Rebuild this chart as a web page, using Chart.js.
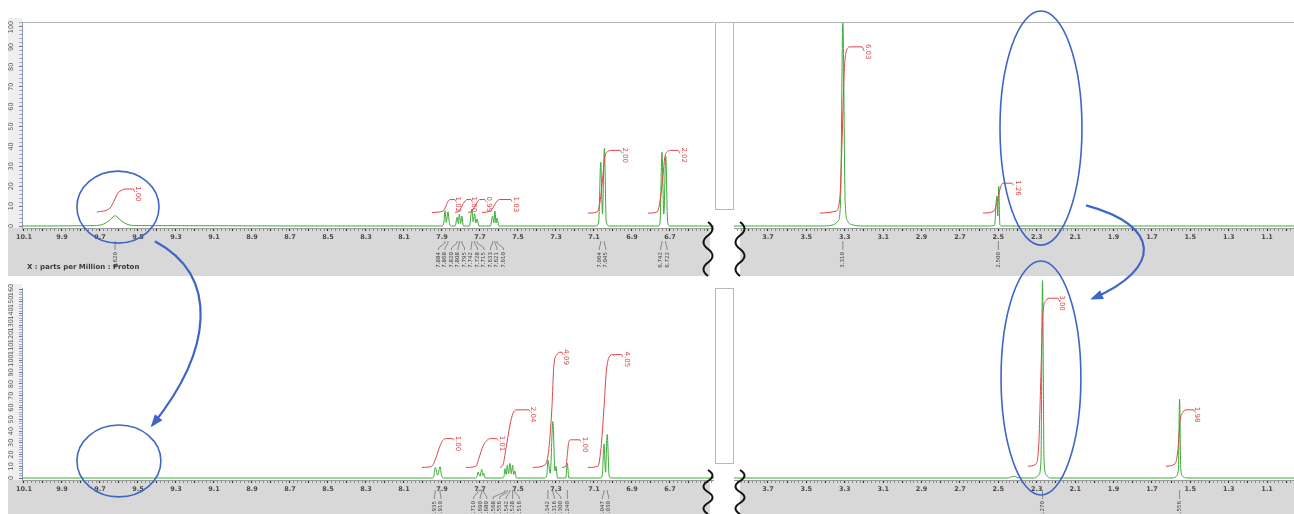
<!DOCTYPE html>
<html>
<head>
<meta charset="utf-8">
<script src="https://cdn.jsdelivr.net/npm/chart.js@4.4.1/dist/chart.umd.min.js"></script>
<style>
  body { margin: 0; width: 1294px; height: 514px; overflow: hidden; position: relative; background: #fff; font-family: "DejaVu Sans", sans-serif; }
  .panel { position: absolute; }
  .gapbox { position: absolute; border: 1px solid #b8b8b8; background: #fff; box-sizing: border-box; }
  #unitText { position: absolute; left: 27px; top: 263px; font-size: 7px; font-weight: bold; color: #3a3a3a; white-space: nowrap; }
  #overlay { position: absolute; left: 0; top: 0; pointer-events: none; }
</style>
</head>
<body>
<div class="panel" style="left:0;top:0"><canvas id="topLeft" width="714" height="276"></canvas></div>
<div class="panel" style="left:714px;top:0"><canvas id="topRight" width="580" height="276"></canvas></div>
<div class="panel" style="left:0;top:276px"><canvas id="bottomLeft" width="714" height="238"></canvas></div>
<div class="panel" style="left:714px;top:276px"><canvas id="bottomRight" width="580" height="238"></canvas></div>
<div class="gapbox" style="left:715px;top:22px;width:19px;height:188px"></div>
<div class="gapbox" style="left:715px;top:288px;width:19px;height:176px"></div>
<div id="unitText">X : parts per Million : Proton</div>
<canvas id="overlay" width="1294" height="514"></canvas>

<script>
// ---- data (ppm, intensity) ----
// top spectrum, aromatic / NH part
const tlShift = [10.11, 9.73, 9.68, 9.65, 9.63, 9.62, 9.61, 9.59, 9.56, 9.51,
  7.90, 7.890, 7.884, 7.877, 7.868, 7.86, 7.85,
  7.83, 7.820, 7.814, 7.808, 7.801, 7.795, 7.787,
  7.755, 7.742, 7.735, 7.728, 7.721, 7.715, 7.705,
  7.645, 7.633, 7.627, 7.621, 7.615, 7.610, 7.60,
  7.09, 7.075, 7.064, 7.055, 7.045, 7.035, 7.02,
  6.76, 6.752, 6.742, 6.732, 6.722, 6.712, 6.70,
  6.468];
const tlHeight = [0, 0.2, 1, 2.8, 4.6, 5.2, 4.6, 2.8, 1, 0.2,
  0, 1.5, 7.7, 1.8, 7.2, 1.2, 0,
  0, 4.5, 1.2, 6, 1.2, 5, 0,
  0, 8.5, 2, 6.2, 1.5, 3.5, 0,
  0, 5, 1.5, 7.5, 1.5, 4, 0,
  0, 2, 32, 6, 39, 2, 0,
  0, 2, 37, 6, 35, 2, 0,
  0];
// top spectrum, aliphatic part
const trShift = [3.877, 3.40, 3.36, 3.335, 3.322, 3.31, 3.298, 3.285, 3.26, 3.20,
  2.55, 2.52, 2.508, 2.503, 2.498, 2.492, 2.48, 0.96];
const trHeight = [0, 0, 0.6, 2.5, 12, 102, 12, 2.5, 0.6, 0,
  0, 0.4, 15, 5, 20, 0.4, 0, 0];
// bottom spectrum, aromatic part
const blShift = [10.11, 7.95, 7.942, 7.935, 7.922, 7.91, 7.902, 7.89,
  7.725, 7.716, 7.71, 7.70, 7.69, 7.685, 7.68, 7.672,
  7.58, 7.573, 7.568, 7.562, 7.556, 7.549, 7.542, 7.535, 7.528, 7.522, 7.516, 7.508,
  7.36, 7.348, 7.342, 7.33, 7.316, 7.305, 7.30, 7.292,
  7.248, 7.24, 7.232,
  7.065, 7.056, 7.047, 7.039, 7.03, 7.02, 7.01,
  6.468];
const blHeight = [0, 0, 2, 9, 2.5, 9.5, 2, 0,
  0, 1.2, 5, 1.5, 7.5, 2, 4, 0,
  0, 1.5, 8, 3, 11, 3.5, 12.5, 3.5, 11, 3, 6, 0,
  0, 2, 15, 4, 48, 6, 10, 0,
  0, 12.5, 0,
  0, 2, 29, 5, 37, 2, 0,
  0];
// bottom spectrum, aliphatic part
const brShift = [3.877, 2.45, 2.42, 2.39, 2.31, 2.29, 2.278, 2.27, 2.262, 2.25, 2.23,
  1.59, 1.572, 1.562, 1.556, 1.55, 1.54, 1.52, 0.96];
const brHeight = [0, 0, 1.5, 0, 0, 2.5, 15, 168, 15, 2.5, 0,
  0, 1.5, 8, 67, 8, 1.5, 0, 0];

// integral curves [ppm, level]
const tlIntegrals = [
  [[9.716, 7], [9.647, 9], [9.626, 12.5], [9.605, 16.6], [9.584, 18], [9.568, 18.6], [9.526, 18.6], [9.516, 17]],
  [[7.953, 6.8], [7.895, 7.5], [7.879, 10], [7.868, 12.5], [7.853, 13.3], [7.832, 13.3], [7.826, 12.3]],
  [[7.832, 6.8], [7.81, 7.5], [7.795, 10], [7.779, 12.5], [7.768, 13.3], [7.747, 13.3], [7.742, 12.3]],
  [[7.763, 6.8], [7.742, 7.5], [7.726, 10], [7.71, 12.5], [7.7, 13.3], [7.674, 13.3], [7.668, 12.3]],
  [[7.689, 6.8], [7.647, 7.5], [7.626, 10], [7.61, 12.5], [7.595, 13.3], [7.537, 13.3], [7.532, 12.3]],
  [[7.132, 6.5], [7.084, 7], [7.068, 12], [7.053, 25], [7.042, 35], [7.026, 37.5], [7.011, 38], [6.963, 38], [6.953, 36.5]],
  [[6.816, 6.5], [6.768, 7], [6.753, 12], [6.737, 25], [6.726, 35], [6.711, 37.5], [6.695, 38], [6.658, 38], [6.647, 36.5]]
];
const trIntegrals = [
  [[3.43, 6.5], [3.346, 7.5], [3.325, 15], [3.315, 40], [3.304, 75], [3.294, 87], [3.273, 90], [3.21, 90], [3.2, 88]],
  [[2.58, 6.5], [2.523, 7.5], [2.507, 12], [2.49, 19], [2.476, 21.5], [2.43, 21.5], [2.42, 20.5]]
];
const blIntegrals = [
  [[8.005, 9], [7.953, 10], [7.932, 17], [7.911, 27], [7.895, 32], [7.879, 33.5], [7.842, 33.5], [7.837, 32]],
  [[7.774, 9], [7.721, 10], [7.705, 17], [7.684, 27], [7.663, 32], [7.647, 33.5], [7.611, 33.5], [7.605, 32]],
  [[7.595, 9], [7.579, 11], [7.563, 25], [7.542, 45], [7.526, 55], [7.505, 58], [7.442, 58], [7.437, 56.5]],
  [[7.421, 9], [7.358, 11], [7.337, 25], [7.321, 60], [7.311, 95], [7.295, 105], [7.279, 107], [7.268, 107], [7.263, 105]],
  [[7.268, 9], [7.247, 10], [7.24, 20], [7.232, 31], [7.222, 32.5], [7.174, 32.5], [7.169, 31]],
  [[7.132, 9], [7.079, 10], [7.063, 25], [7.047, 60], [7.035, 90], [7.02, 103], [7.0, 105], [6.954, 105], [6.948, 103]]
];
const brIntegrals = [
  [[2.346, 10], [2.304, 12], [2.289, 30], [2.278, 90], [2.268, 140], [2.252, 151], [2.231, 153], [2.19, 153], [2.18, 150]],
  [[1.627, 10], [1.58, 12], [1.564, 25], [1.554, 48], [1.539, 56], [1.518, 58], [1.482, 58], [1.477, 56.5]]
];

// integral values [ppm, level, text]
const tlIntLabels = [[9.50, 18.6, '1.00'], [7.815, 13.3, '1.02'], [7.732, 13.3, '1.00'], [7.653, 13.3, '0.99'], [7.511, 13.3, '1.03'], [6.937, 38, '2.00'], [6.626, 38, '2.02']];
const trIntLabels = [[3.18, 90, '6.03'], [2.398, 21.5, '1.26']];
const blIntLabels = [[7.816, 33.5, '1.00'], [7.584, 33.5, '1.01'], [7.421, 58, '2.04'], [7.247, 107, '4.09'], [7.147, 32.5, '1.00'], [6.926, 105, '4.05']];
const brIntLabels = [[2.169, 153, '3.00'], [1.466, 58, '1.98']];

// peak picks shown under the axis
const tlPicks = [[9.62], [7.884, 7.868, 7.82, 7.808, 7.795, 7.742, 7.728, 7.715, 7.633, 7.621, 7.61], [7.064, 7.045], [6.742, 6.722]];
const trPicks = [[3.31], [2.50]];
const blPicks = [[7.935, 7.91], [7.71, 7.69, 7.68, 7.568, 7.556, 7.542, 7.528, 7.516], [7.342, 7.316, 7.30, 7.24], [7.047, 7.03]];
const brPicks = [[2.27], [1.556]];

const leftRange = [6.468, 10.11];
const rightRange = [0.96, 3.877];

Chart.defaults.font.family = '"DejaVu Sans", sans-serif';

const GREEN = '#3aaa35';
const RED = '#dd4646';

function onTenth(v) {
  return Math.abs(v * 10 - Math.round(v * 10)) < 1e-6;
}

function axisLabels(lo, hi) {
  return function (value) {
    const t = Math.round(value * 10);
    if (!onTenth(value) || Math.abs(t % 2) !== 1) return '';
    if (value < lo + 0.04 || value > hi) return '';
    return value.toFixed(1);
  };
}

// band, frame, rotated labels
const decorPlugin = {
  id: 'decor',
  beforeDraw(chart, args, o) {
    const { ctx, chartArea: a } = chart;
    ctx.save();
    ctx.fillStyle = '#d8d8d8';
    ctx.fillRect(o.bandFrom, a.bottom, o.bandTo - o.bandFrom, chart.height - a.bottom);
    if (o.yLabels) {
      ctx.fillStyle = '#efefef';
      ctx.fillRect(o.bandFrom, a.top - 4, a.left - o.bandFrom, a.bottom - a.top + 4);
    }
    if (o.frameTop) {
      ctx.strokeStyle = '#b4b4b4';
      ctx.lineWidth = 1;
      ctx.beginPath();
      ctx.moveTo(a.left, a.top + 0.5);
      ctx.lineTo(a.right, a.top + 0.5);
      ctx.stroke();
    }
    ctx.restore();
  },
  afterDraw(chart, args, o) {
    const { ctx, chartArea: a } = chart;
    const xs = chart.scales.x, ys = chart.scales.y;
    ctx.save();
    // y tick labels, turned
    if (o.yLabels) {
      ctx.fillStyle = '#555';
      ctx.font = '6.5px "DejaVu Sans"';
      ctx.textAlign = 'center';
      ctx.textBaseline = 'middle';
      ys.ticks.forEach(t => {
        if (t.value < 0 || t.value % 10 !== 0) return;
        ctx.save();
        ctx.translate(a.left - 11, ys.getPixelForValue(t.value));
        ctx.rotate(-Math.PI / 2);
        ctx.fillText(String(t.value), 0, 0);
        ctx.restore();
      });
    }
    // integral values
    ctx.fillStyle = RED;
    ctx.font = '7px "DejaVu Sans"';
    ctx.textAlign = 'left';
    ctx.textBaseline = 'middle';
    o.intLabels.forEach(([p, v, txt]) => {
      ctx.save();
      ctx.translate(xs.getPixelForValue(p), ys.getPixelForValue(v) - 3);
      ctx.rotate(Math.PI / 2);
      ctx.fillText(txt, 0, 0);
      ctx.restore();
    });
    // peak picks in the band
    const y0 = a.bottom + o.pickOffset;
    ctx.strokeStyle = '#666';
    ctx.fillStyle = '#444';
    ctx.lineWidth = 0.7;
    ctx.font = '5.5px "DejaVu Sans"';
    ctx.textAlign = 'right';
    o.picks.forEach(group => {
      const px = group.map(p => xs.getPixelForValue(p));
      const mid = (Math.min(...px) + Math.max(...px)) / 2;
      group.forEach((p, i) => {
        const lx = mid + (i - (group.length - 1) / 2) * 6.5;
        ctx.beginPath();
        ctx.moveTo(px[i], y0);
        ctx.lineTo(px[i], y0 + 2);
        ctx.lineTo(lx, y0 + 7);
        ctx.lineTo(lx, y0 + 9);
        ctx.stroke();
        ctx.save();
        ctx.translate(lx, y0 + 11);
        ctx.rotate(-Math.PI / 2);
        ctx.fillText(p.toFixed(3), 0, 0);
        ctx.restore();
      });
    });
    ctx.restore();
  }
};

function toPoints(shift, height) {
  return shift.map((s, i) => ({ x: s, y: height[i] }));
}

function joinCurves(curves) {
  const pts = [];
  curves.forEach((c, k) => {
    if (k > 0) pts.push({ x: c[0][0], y: null });
    c.forEach(p => pts.push({ x: p[0], y: p[1] }));
  });
  return pts;
}

function makePanel(id, p) {
  const xTicks = axisLabels(p.range[0], p.range[1]);
  return new Chart(document.getElementById(id), {
    type: 'line',
    data: {
      datasets: [
        {
          label: 'integral',
          data: joinCurves(p.integrals),
          borderColor: RED,
          borderWidth: 1,
          pointRadius: 0,
          spanGaps: false,
          cubicInterpolationMode: 'monotone',
          clip: false
        },
        {
          label: 'spectrum',
          data: toPoints(p.shift, p.height),
          borderColor: GREEN,
          borderWidth: 1,
          pointRadius: 0,
          cubicInterpolationMode: 'monotone',
          clip: false
        }
      ]
    },
    options: {
      responsive: false,
      animation: false,
      events: [],
      layout: { autoPadding: false, padding: p.padding },
      plugins: {
        legend: { display: false },
        tooltip: { enabled: false },
        decor: p.decor
      },
      scales: {
        x: {
          type: 'linear',
          reverse: true,
          min: p.range[0],
          max: p.range[1],
          afterFit: s => { s.height = p.axisHeight; s.paddingLeft = 0; s.paddingRight = 0; },
          ticks: {
            stepSize: 0.02,
            autoSkip: false,
            includeBounds: false,
            maxRotation: 0,
            minRotation: 0,
            padding: 2,
            color: '#4a4a4a',
            font: { size: 6.5, weight: 'bold' },
            callback: xTicks
          },
          grid: {
            drawOnChartArea: false,
            tickLength: 3,
            tickColor: c => onTenth(c.tick.value) ? '#333' : '#777',
            tickWidth: c => onTenth(c.tick.value) ? 1.2 : 0.8
          },
          border: { display: true, color: '#9a9a9a' }
        },
        y: {
          type: 'linear',
          display: p.showY,
          min: p.yRange[0],
          max: p.yRange[1],
          afterFit: s => {
            if (p.showY) s.width = 22;
            s.paddingTop = 0;
            s.paddingBottom = 0;
          },
          ticks: { display: false, stepSize: 2, includeBounds: false },
          grid: {
            drawOnChartArea: false,
            tickLength: 3,
            tickColor: c => c.tick.value % 10 === 0 ? '#556' : '#99a',
            tickWidth: 0.8
          },
          border: { display: true, color: '#8899bb' }
        }
      }
    },
    plugins: [decorPlugin]
  });
}

const topLeft = makePanel('topLeft', {
  shift: tlShift, height: tlHeight, integrals: tlIntegrals, range: leftRange, yRange: [-1, 102.5],
  padding: { left: 0, top: 22, right: 0, bottom: 0 }, axisHeight: 48, showY: true,
  decor: { bandFrom: 8, bandTo: 710, yLabels: true, frameTop: true, intLabels: tlIntLabels, picks: tlPicks, pickOffset: 13 }
});
const topRight = makePanel('topRight', {
  shift: trShift, height: trHeight, integrals: trIntegrals, range: rightRange, yRange: [-1, 102.5],
  padding: { left: 20, top: 22, right: 0, bottom: 0 }, axisHeight: 48, showY: false,
  decor: { bandFrom: 26, bandTo: 580, yLabels: false, frameTop: true, intLabels: trIntLabels, picks: trPicks, pickOffset: 13 }
});
const bottomLeft = makePanel('bottomLeft', {
  shift: blShift, height: blHeight, integrals: blIntegrals, range: leftRange, yRange: [-1.7, 161.7],
  padding: { left: 0, top: 12, right: 0, bottom: 0 }, axisHeight: 34, showY: true,
  decor: { bandFrom: 8, bandTo: 710, yLabels: true, frameTop: false, intLabels: blIntLabels, picks: blPicks, pickOffset: 10 }
});
const bottomRight = makePanel('bottomRight', {
  shift: brShift, height: brHeight, integrals: brIntegrals, range: rightRange, yRange: [-1.7, 161.7],
  padding: { left: 20, top: 12, right: 0, bottom: 0 }, axisHeight: 34, showY: false,
  decor: { bandFrom: 26, bandTo: 580, yLabels: false, frameTop: false, intLabels: brIntLabels, picks: brPicks, pickOffset: 10 }
});

// ---- hand-drawn looking notes on top: circles, arrows, axis breaks ----
const notes = [
  { chart: topLeft, ppm: 9.605, val: 9.5, rPpm: 0.216, rVal: 18.1 },
  { chart: bottomLeft, ppm: 9.6, val: 14.5, rPpm: 0.221, rVal: 30.6 },
  { chart: topRight, ppm: 2.278, val: 49.2, rPpm: 0.2135, rVal: 58.8 },
  { chart: bottomRight, ppm: 2.278, val: 85.1, rPpm: 0.208, rVal: 99.6 }
];

function ellipseOf(n) {
  const r = n.chart.canvas.getBoundingClientRect();
  const xs = n.chart.scales.x, ys = n.chart.scales.y;
  const cx = r.left + xs.getPixelForValue(n.ppm);
  const cy = r.top + ys.getPixelForValue(n.val);
  const rx = Math.abs(xs.getPixelForValue(n.ppm - n.rPpm) - xs.getPixelForValue(n.ppm));
  const ry = Math.abs(ys.getPixelForValue(n.val + n.rVal) - ys.getPixelForValue(n.val));
  return { cx, cy, rx, ry };
}

const ov = document.getElementById('overlay').getContext('2d');
const blue = '#3f66c6';
const el = notes.map(ellipseOf);

ov.strokeStyle = blue;
ov.lineWidth = 1.6;
el.forEach(e => {
  ov.beginPath();
  ov.ellipse(e.cx, e.cy, e.rx, e.ry, 0, 0, Math.PI * 2);
  ov.stroke();
});

function arrow(s, c1, c2, e) {
  ov.strokeStyle = blue;
  ov.fillStyle = blue;
  ov.lineWidth = 2.2;
  ov.beginPath();
  ov.moveTo(s[0], s[1]);
  ov.bezierCurveTo(c1[0], c1[1], c2[0], c2[1], e[0], e[1]);
  ov.stroke();
  const ang = Math.atan2(e[1] - c2[1], e[0] - c2[0]);
  ov.beginPath();
  ov.moveTo(e[0] + Math.cos(ang) * 3, e[1] + Math.sin(ang) * 3);
  ov.lineTo(e[0] - Math.cos(ang - 0.45) * 11, e[1] - Math.sin(ang - 0.45) * 11);
  ov.lineTo(e[0] - Math.cos(ang + 0.45) * 11, e[1] - Math.sin(ang + 0.45) * 11);
  ov.closePath();
  ov.fill();
}

{
  const a = el[0], b = el[1];
  const s = [a.cx + a.rx * 0.9, a.cy + a.ry * 0.95];
  const e = [b.cx + b.rx * 0.8, b.cy - b.ry * 1.0];
  arrow(s, [s[0] + 65, s[1] + 35], [e[0] + 60, e[1] - 75], e);
}
{
  const a = el[2], b = el[3];
  const s = [a.cx + a.rx * 1.1, a.cy + a.ry * 0.66];
  const e = [b.cx + b.rx * 1.3, b.cy - b.ry * 0.68];
  arrow(s, [s[0] + 75, s[1] + 20], [e[0] + 70, e[1] - 30], e);
}

// axis break marks
function squiggle(x, y1, y2) {
  ov.strokeStyle = '#111';
  ov.lineWidth = 2;
  ov.beginPath();
  const h = (y2 - y1) / 4;
  ov.moveTo(x, y1);
  for (let i = 0; i < 4; i++) {
    const dir = i % 2 === 0 ? 1 : -1;
    ov.quadraticCurveTo(x + dir * 9, y1 + h * (i + 0.5), x, y1 + h * (i + 1));
  }
  ov.stroke();
}
squiggle(708, 222, 276);
squiggle(740, 222, 276);
squiggle(708, 470, 514);
squiggle(740, 470, 514);
</script>
</body>
</html>
